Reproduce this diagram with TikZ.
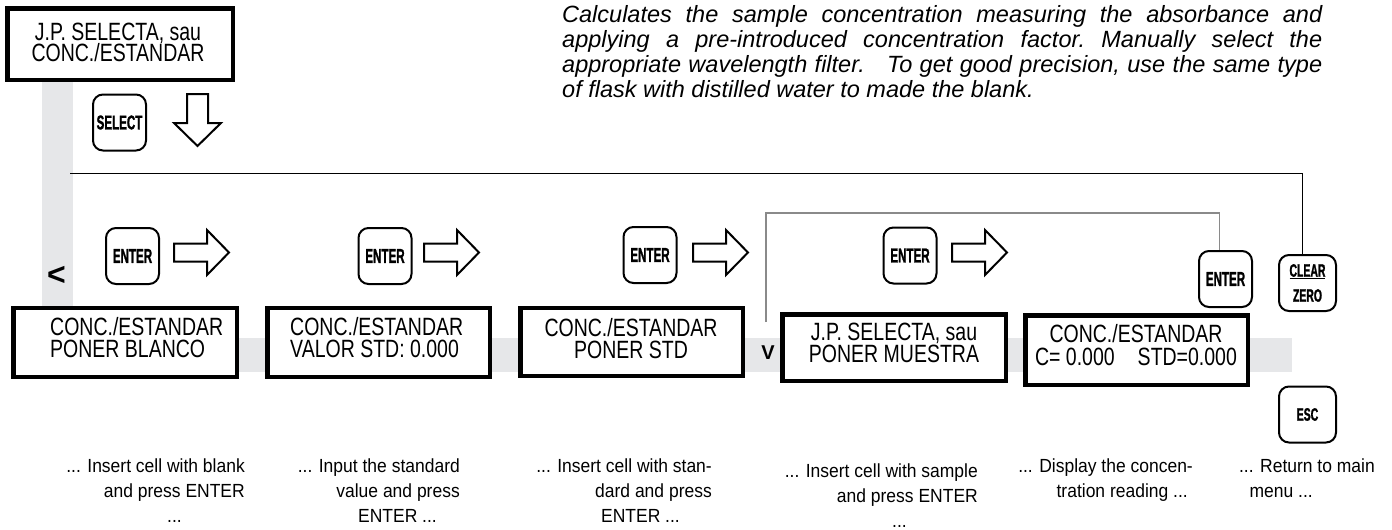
\documentclass[tikz,border=0pt]{standalone}
\usepackage{fontspec}
\setmainfont{Liberation Sans}
\newfontfamily\boxfont[FakeStretch=0.78]{Liberation Sans}
\newfontfamily\keyfont[FakeStretch=0.58,FakeBold=1.2]{Liberation Sans}
\newfontfamily\capfont[FakeStretch=0.92]{Liberation Sans}
\definecolor{bandgray}{HTML}{E6E7E9}
\definecolor{linegray}{HTML}{8A8A8A}
\tikzset{
  lcd/.style={draw, line width=4.5pt, fill=white, inner sep=0pt, line join=miter},
  lcdtext/.style={inner sep=0pt, font=\boxfont\fontsize{25}{21.5}\selectfont},
  key/.style={draw, line width=2pt, rounded corners=10pt, fill=white, minimum width=53pt, minimum height=56pt, inner sep=0pt, font=\keyfont\bfseries\fontsize{20}{20}\selectfont},
  smallkey/.style={key, minimum width=57pt, font=\keyfont\bfseries\fontsize{18}{25}\selectfont},
  hollow/.style={draw, line width=2pt, line join=miter, fill=white},
  captxt/.style={inner sep=0pt, align=right, font=\capfont\fontsize{19}{25}\selectfont},
  rarr/.pic={\path[hollow] (0,-9)--(33,-9)--(33,-22.5)--(55,0)--(33,22.5)--(33,9)--(0,9)--cycle;},
  darr/.pic={\path[hollow] (-10.5,0)--(10.5,0)--(10.5,29)--(23.5,29)--(0,52)--(-23.5,29)--(-10.5,29)--cycle;}
}
\begin{document}
\begin{tikzpicture}[x=1pt,y=-1pt]
\useasboundingbox (0,0) rectangle (1392,530);
% gray bands
\fill[bandgray] (41.7,82) rectangle (73.3,371);
\fill[bandgray] (41.7,338) rectangle (1292,371.5);

% description
\node[anchor=north west, text width=760pt, align=justify, inner sep=0pt,
      font=\itshape\fontsize{23.5}{25}\selectfont\frenchspacing] (para) at (562,5)
 {Calculates the sample concentration measuring the absorbance and\linebreak
  applying a pre-introduced concentration factor. Manually select the\linebreak
  appropriate wavelength filter.\ \ \ To get good precision, use the same type\linebreak
  of flask with distilled water to made the blank.};

% top display
\node[lcd, minimum width=225.5pt, minimum height=71.5pt] (top) at (120,44) {};
\node[lcdtext, align=center] (toptxt) at (118,42.5) {J.P. SELECTA, sau\\CONC./ESTANDAR};

% select key and down arrow
\node[key] (sel) at (119.5,122.5) {SELECT};
\pic (da) at (197.5,94) {darr};

% thin line to CLEAR/ZERO
\node[smallkey, align=center] (clr) at (1307.5,283) {\underline{CLEAR}\\ZERO};
\coordinate (l0) at (70,173);
\draw[line width=1pt] (l0) -| ([xshift=-5pt]clr.north);

% return marker
\node[inner sep=0pt, font=\bfseries\fontsize{32}{32}\selectfont] (lt) at (56.5,276) {<};

% enter keys and arrows
\node[key] (e1) at (132.5,256) {ENTER};
\pic (a1) at (174,252.5) {rarr};
\node[key] (e2) at (385,256) {ENTER};
\pic (a2) at (424,252.5) {rarr};
\node[key] (e3) at (650,255) {ENTER};
\pic (a3) at (693,252.5) {rarr};
\node[key] (e4) at (910,255.5) {ENTER};
\pic (a4) at (952,252.5) {rarr};
\node[key] (e5) at (1225.5,279) {ENTER};
\node[smallkey] (esc) at (1307.5,414.5) {ESC};

% gray loop connector
\coordinate (g0) at (766,322);
\coordinate (g1) at (766,213);
\draw[linegray, line width=1.2pt] (g0) -- (g1) -| ([xshift=-6pt]e5.north);

% displays
\node[lcd, minimum width=223.5pt, minimum height=69pt] (b1) at (125,342.5) {};
\node[lcdtext, anchor=west, align=left] (t1) at (50,337.5) {CONC./ESTANDAR\\PONER BLANCO};
\node[lcd, minimum width=222.5pt, minimum height=69pt] (b2) at (378.5,342.5) {};
\node[lcdtext, anchor=west, align=left] (t2) at (290,337.5) {CONC./ESTANDAR\\VALOR STD: 0.000};
\node[lcd, minimum width=222.5pt, minimum height=68pt] (b3) at (631.5,342) {};
\node[lcdtext, align=center] (t3) at (631,338.5) {CONC./ESTANDAR\\PONER STD};
\node[inner sep=0pt, font=\bfseries\fontsize{20}{20}\selectfont] (vv) at (768,353) {V};
\node[lcd, minimum width=223.5pt, minimum height=66.5pt] (b4) at (894,347.5) {};
\node[lcdtext, align=center] (t4) at (894,343) {J.P. SELECTA, sau\\PONER MUESTRA};
\node[lcd, minimum width=222.5pt, minimum height=69.5pt] (b5) at (1136.5,350) {};
\node[lcdtext, align=center, font=\boxfont\fontsize{25}{23}\selectfont] (t5) at (1136,345.5) {CONC./ESTANDAR\\C= 0.000\hspace{23pt}STD=0.000};

% captions
\node[captxt, anchor=north east] (c1) at (245,458.4) {... Insert cell with blank\\and press ENTER\\...\hspace*{63pt}};
\node[captxt, anchor=north east] (c2) at (460,458.4) {... Input the standard\\value and press\\ENTER ...\hspace*{23pt}};
\node[captxt, anchor=north east] (c3) at (712,458.4) {... Insert cell with stan-\\dard and press\hspace*{10pt}\\ENTER ...\hspace*{32pt}};
\node[captxt, anchor=north east] (c4) at (978,464) {... Insert cell with sample\\and press ENTER\hspace*{6pt}\\...\hspace*{71pt}};
\node[captxt, anchor=north east] (c5) at (1193,458.4) {... Display the concen-\\tration reading ...\hspace*{5pt}};
\node[captxt, anchor=north east] (c6) at (1375,458.4) {... Return to main\\menu ...\hspace*{62pt}};
\end{tikzpicture}
\end{document}
